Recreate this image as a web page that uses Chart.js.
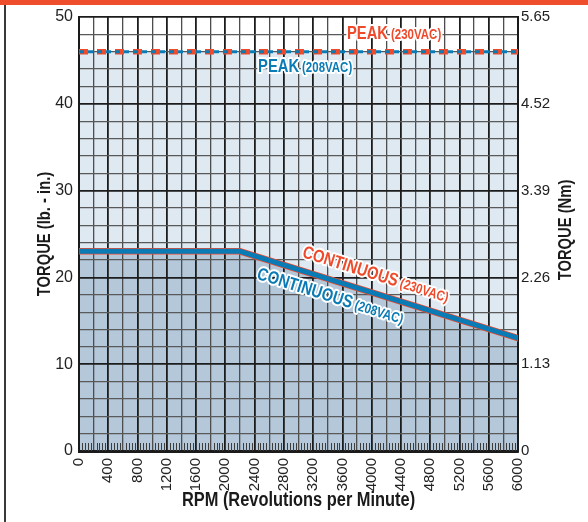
<!DOCTYPE html>
<html>
<head>
<meta charset="utf-8">
<script src="https://cdn.jsdelivr.net/npm/chart.js@4/dist/chart.umd.min.js"></script>
<style>
  html, body { margin: 0; padding: 0; background: #fff; }
  #wrap { width: 588px; height: 522px; }
  canvas { background: #fff; }
</style>
</head>
<body>
<div id="wrap"><canvas id="torque" width="588" height="522"></canvas></div>
<script>
// torque curve data
const rpm = [0, 2200, 6000];
const continuous208 = [23, 23, 13];
const continuous230 = [23, 23, 13];
const peak208 = [46, 46, 46];
const peak230 = [46, 46, 46];

const rpmMin = 0, rpmMax = 6000, rpmGridStep = 200, rpmLabelStep = 400;
const lbinMin = 0, lbinMax = 50, lbinGridStep = 2, lbinLabelStep = 10;
const nmTicks = [0, 1.13, 2.26, 3.39, 4.52, 5.65];
const nmLabels = ["0", "1.13", "2.26", "3.39", "4.52", "5.65"];

const RED = "#ee4a2c";
const BLUE = "#0b7bb5";
const FONT = "'Liberation Sans', Arial, sans-serif";
const NARROW = 0.82; // squeeze Liberation Sans to look like Arial Narrow

// curve labels, placed in data units
const curveLabels = [
  { main: "PEAK", sub: "(230VAC)", x: 3663, y: 48.0, color: RED, along: false },
  { main: "PEAK", sub: "(208VAC)", x: 2447, y: 44.2, color: BLUE, along: false },
  { main: "CONTINUOUS", sub: "(230VAC)", x: 3060, y: 22.9, color: RED, along: true },
  { main: "CONTINUOUS", sub: "(208VAC)", x: 2440, y: 20.4, color: BLUE, along: true },
];

const pts = (ys) => rpm.map((x, i) => ({ x: x, y: ys[i] }));

function narrowText(ctx, text, x, y, halo) {
  ctx.save();
  ctx.translate(x, y);
  ctx.scale(NARROW, 1);
  if (halo) ctx.strokeText(text, 0, 0);
  ctx.fillText(text, 0, 0);
  ctx.restore();
  return ctx.measureText(text).width * NARROW;
}

// top bar, left rule and minor ticks
const framePlugin = {
  id: "frame",
  beforeDraw(chart) {
    const ctx = chart.ctx;
    ctx.save();
    ctx.fillStyle = "#ef4e2c";
    ctx.fillRect(0, 0, chart.width, 5);
    ctx.fillStyle = "#3a3a3a";
    ctx.fillRect(4, 5, 2, chart.height - 5);
    ctx.restore();
  },
  beforeDatasetsDraw(chart) {
    const ctx = chart.ctx;
    const xs = chart.scales.x;
    const bottom = chart.chartArea.bottom;
    ctx.save();
    ctx.strokeStyle = "#3d3d3d";
    ctx.lineWidth = 1;
    for (let v = rpmMin; v <= rpmMax; v += 40) {
      if (v % rpmGridStep === 0) continue;
      const px = Math.round(xs.getPixelForValue(v)) + 0.5;
      ctx.beginPath();
      ctx.moveTo(px, bottom);
      ctx.lineTo(px, bottom - 8);
      ctx.stroke();
    }
    ctx.restore();
  },
};

const labelPlugin = {
  id: "curveLabels",
  afterDatasetsDraw(chart) {
    const ctx = chart.ctx;
    const xs = chart.scales.x, ys = chart.scales.y;
    const dx = xs.getPixelForValue(rpm[2]) - xs.getPixelForValue(rpm[1]);
    const dy = ys.getPixelForValue(continuous208[2]) - ys.getPixelForValue(continuous208[1]);
    const slope = Math.atan2(dy, dx);
    ctx.save();
    ctx.textBaseline = "middle";
    ctx.textAlign = "left";
    ctx.lineJoin = "round";
    ctx.strokeStyle = "#fff";
    ctx.lineWidth = 4;
    curveLabels.forEach((l) => {
      ctx.save();
      ctx.translate(xs.getPixelForValue(l.x), ys.getPixelForValue(l.y));
      if (l.along) ctx.rotate(slope);
      ctx.fillStyle = l.color;
      ctx.font = "bold 18px " + FONT;
      const w = narrowText(ctx, l.main, 0, 0, true);
      ctx.font = "bold 14px " + FONT;
      narrowText(ctx, l.sub, w + 3, 1, true);
      ctx.restore();
    });
    ctx.restore();
  },
  afterDraw(chart) {
    const ctx = chart.ctx;
    const a = chart.chartArea;
    ctx.save();
    ctx.fillStyle = "#1a1a1a";
    ctx.textAlign = "center";
    ctx.textBaseline = "middle";
    ctx.font = "bold 20px " + FONT;
    narrowText(ctx, "RPM (Revolutions per Minute)", (a.left + a.right) / 2, 500);
    ctx.font = "bold 18px " + FONT;
    ctx.save();
    ctx.translate(45, (a.top + a.bottom) / 2);
    ctx.rotate(-Math.PI / 2);
    narrowText(ctx, "TORQUE (lb. - in.)", 0, 0);
    ctx.restore();
    ctx.save();
    ctx.translate(566, 230);
    ctx.rotate(-Math.PI / 2);
    narrowText(ctx, "TORQUE (Nm)", 0, 0);
    ctx.restore();
    ctx.restore();
  },
};

new Chart(document.getElementById("torque"), {
  type: "line",
  data: {
    datasets: [
      {
        label: "Continuous (230VAC)",
        data: pts(continuous230),
        borderColor: RED,
        borderWidth: 6.5,
        borderCapStyle: "round",
        fill: false,
        order: 2,
      },
      {
        label: "Continuous (208VAC)",
        data: pts(continuous208),
        borderColor: BLUE,
        borderWidth: 5,
        borderCapStyle: "round",
        backgroundColor: "#b5c8d9",
        fill: "origin",
        order: 1,
      },
      {
        label: "Peak (208VAC)",
        data: pts(peak208),
        borderColor: BLUE,
        borderWidth: 3,
        borderDash: [5, 4],
        backgroundColor: "#dfe9f2",
        fill: { target: 1 },
        order: 1,
      },
      {
        label: "Peak (230VAC)",
        data: pts(peak230),
        borderColor: RED,
        borderWidth: 5.5,
        borderDash: [9, 9],
        fill: false,
        order: 2,
      },
    ],
  },
  options: {
    responsive: false,
    animation: false,
    layout: { padding: { top: 17 } },
    elements: { point: { radius: 0 }, line: { tension: 0 } },
    plugins: {
      legend: { display: false },
      tooltip: { enabled: false },
      filler: { drawTime: "beforeDraw" },
    },
    scales: {
      x: {
        type: "linear",
        min: rpmMin,
        max: rpmMax,
        afterFit: (s) => { s.height = 71; },
        border: { color: "#1a1a1a", width: 3 },
        grid: {
          drawTicks: false,
          color: (c) => (c.tick && c.tick.value % rpmLabelStep === 0 ? "#1c1c1c" : "#4d4d4d"),
          lineWidth: (c) => (c.tick && c.tick.value % rpmLabelStep === 0 ? 1.8 : 1.3),
        },
        ticks: {
          stepSize: rpmGridStep,
          autoSkip: false,
          minRotation: 90,
          maxRotation: 90,
          padding: 7,
          color: "#222",
          font: { family: FONT, size: 15 },
          callback: (v) => (v % rpmLabelStep === 0 ? String(v) : ""),
        },
      },
      y: {
        position: "left",
        min: lbinMin,
        max: lbinMax,
        afterFit: (s) => { s.width = 79; },
        border: { color: "#1a1a1a", width: 2 },
        grid: {
          drawTicks: false,
          color: (c) => (c.tick && c.tick.value % lbinLabelStep === 0 ? "#1c1c1c" : "#595959"),
          lineWidth: (c) => (c.tick && c.tick.value % lbinLabelStep === 0 ? 1.7 : 1.2),
        },
        ticks: {
          stepSize: lbinGridStep,
          autoSkip: false,
          padding: 6,
          color: "#222",
          font: { family: FONT, size: 16 },
          callback: (v) => (v % lbinLabelStep === 0 ? String(v) : ""),
        },
      },
      y2: {
        position: "right",
        min: nmTicks[0],
        max: nmTicks[nmTicks.length - 1],
        afterFit: (s) => { s.width = 70; },
        afterBuildTicks: (s) => { s.ticks = nmTicks.map((v) => ({ value: v })); },
        border: { color: "#1a1a1a", width: 2 },
        grid: { display: false, drawTicks: false },
        ticks: {
          autoSkip: false,
          padding: 3,
          color: "#222",
          font: { family: FONT, size: 15 },
          callback: (v, i) => nmLabels[i],
        },
      },
    },
  },
  plugins: [framePlugin, labelPlugin],
});
</script>
</body>
</html>
